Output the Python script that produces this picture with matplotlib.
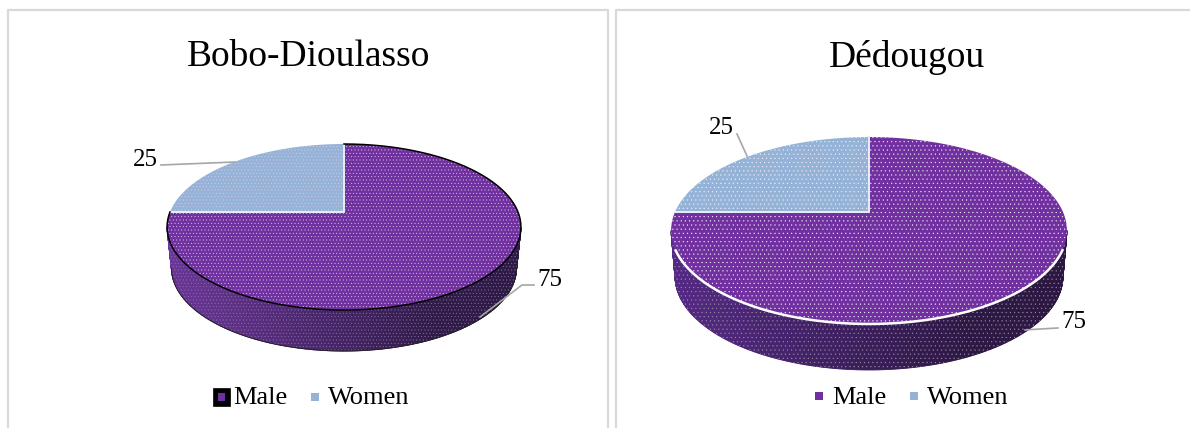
import numpy as np
import matplotlib
matplotlib.use('Agg')
import matplotlib.pyplot as plt
from matplotlib.patches import Polygon, Rectangle

plt.rcParams['font.family'] = ['Liberation Serif', 'DejaVu Serif']
plt.rcParams['hatch.linewidth'] = 0.3

titles = ['Bobo-Dioulasso', 'Dédougou']
categories = ['Male', 'Women']
values_bobo = [75, 25]
values_dedougou = [75, 25]

male_color = '#7030a0'
women_color = '#95b3d7'


def project(theta, pie):
	# theta is clockwise from 12 o'clock, back of the pie is further away
	u = np.sin(theta)
	v = np.cos(theta)
	w = 1 + pie['k'] * v
	return pie['cx'] + pie['a'] * u / w, pie['cy'] - pie['b'] * v / w


def draw_pie(ax, values, pie):
	shares = np.cumsum([0] + values) / sum(values) * 2 * np.pi
	# side wall of the first slice, only the front part is visible
	t = np.linspace(shares[0], shares[1], 500)
	x, y = project(t, pie)
	i0 = np.argmax(x)
	i1 = np.argmin(x)
	xlow = pie['cx'] + (x - pie['cx']) * pie['taper']
	ylow = y + pie['depth']
	left = np.array(pie['wall_left'])
	right = np.array(pie['wall_right'])
	for i in range(i0, i1):
		f = (x[i] - x[i1]) / (x[i0] - x[i1])
		col = left + (right - left) * min(f * 1.3, 1)
		ax.add_patch(Polygon([(x[i], y[i]), (x[i + 1], y[i + 1]),
			(xlow[i + 1], ylow[i + 1]), (xlow[i], ylow[i])],
			facecolor=col, edgecolor=col, lw=0.6, zorder=2))
	wall = np.vstack([np.c_[x[i0:i1], y[i0:i1]], np.c_[xlow[i0:i1], ylow[i0:i1]][::-1]])
	ax.add_patch(Polygon(wall, facecolor='none', edgecolor=pie['wall_dots'], hatch=pie['hatch'], lw=0, zorder=3))
	if pie['rim'] == 'black':
		ax.plot(xlow[i0:i1], ylow[i0:i1], color='#222222', lw=0.7, zorder=4)

	# top face
	colors = [male_color, women_color]
	for n in range(len(values)):
		t = np.linspace(shares[n], shares[n + 1], 300)
		x, y = project(t, pie)
		pts = np.vstack([[pie['cx'], pie['cy']], np.c_[x, y]])
		ax.add_patch(Polygon(pts, facecolor=colors[n], edgecolor='none', zorder=5))
		ax.add_patch(Polygon(pts, facecolor='none', edgecolor=pie['dots'], hatch=pie['hatch'], lw=0, zorder=6))
		ax.plot([x[0], pie['cx'], x[-1]], [y[0], pie['cy'], y[-1]], color='#e6edf6', lw=1.3, zorder=7)

	# rim, black all round on the left pie, white along the front on the right one
	t = np.linspace(shares[0], shares[1], 500)
	x, y = project(t, pie)
	if pie['rim'] == 'black':
		ax.plot(x, y, color='black', lw=1.1, zorder=8)
	else:
		front = y > pie['cy'] + 38
		ax.plot(x[front], y[front], color='white', lw=1.8, zorder=8)


fig = plt.figure(figsize=(11.9, 4.28), dpi=100)
ax = fig.add_axes([0, 0, 1, 1])
ax.set_xlim(0, 1190)
ax.set_ylim(428, 0)
ax.axis('off')

# panel frames
ax.plot([8, 8, 608, 608], [428, 10, 10, 428], color='#d9d9d9', lw=1.6)
ax.plot([616, 616, 1190], [428, 10, 10], color='#d9d9d9', lw=1.6)

pie_left = {'cx': 344, 'cy': 212, 'a': 174, 'b': 80.3, 'k': 0.181, 'depth': 41, 'taper': 0.975,
	'hatch': '.....', 'dots': '#d9c8ea', 'wall_dots': '#8c74a6', 'rim': 'black',
	'wall_left': (0.42, 0.21, 0.60), 'wall_right': (0.18, 0.10, 0.28)}
pie_right = {'cx': 869, 'cy': 212, 'a': 194, 'b': 89.8, 'k': 0.198, 'depth': 46, 'taper': 0.98,
	'hatch': '....', 'dots': '#f4eefa', 'wall_dots': '#9a90a4', 'rim': 'white',
	'wall_left': (0.33, 0.16, 0.52), 'wall_right': (0.17, 0.09, 0.26)}

draw_pie(ax, values_bobo, pie_left)
draw_pie(ax, values_dedougou, pie_right)

# titles
ax.text(308.5, 57, titles[0], fontsize=27, ha='center', va='center', color='black')
ax.text(907, 57, titles[1], fontsize=27, ha='center', va='center', color='black')

# data labels and leader lines
ax.text(145, 160, str(values_bobo[1]), fontsize=18, ha='center', va='center')
ax.text(550, 280, str(values_bobo[0]), fontsize=18, ha='center', va='center')
ax.text(721, 128, str(values_dedougou[1]), fontsize=18, ha='center', va='center')
ax.text(1074, 322, str(values_dedougou[0]), fontsize=18, ha='center', va='center')
leader = {'color': '#a6a6a6', 'lw': 1.2, 'zorder': 9}
ax.plot([161, 235], [165, 162], **leader)
ax.plot([480, 522, 534], [317, 285, 285], **leader)
ax.plot([737, 747], [134, 156], **leader)
ax.plot([1025, 1040, 1058], [330, 329, 328], **leader)

# legends
ax.add_patch(Rectangle((213, 388), 17, 18, facecolor='black', edgecolor='black', lw=0.5))
ax.add_patch(Rectangle((218, 393), 7, 8, facecolor=male_color, edgecolor='none'))
ax.text(233, 398, categories[0], fontsize=19, va='center')
ax.add_patch(Rectangle((311, 393), 8, 8, facecolor=women_color, edgecolor='none'))
ax.text(328, 398, categories[1], fontsize=19, va='center')
ax.add_patch(Rectangle((815, 392), 8, 8, facecolor=male_color, edgecolor='none'))
ax.text(832, 398, categories[0], fontsize=19, va='center')
ax.add_patch(Rectangle((910, 392), 8, 8, facecolor=women_color, edgecolor='none'))
ax.text(927, 398, categories[1], fontsize=19, va='center')

fig.savefig('out.png', dpi=100)
plt.close()
